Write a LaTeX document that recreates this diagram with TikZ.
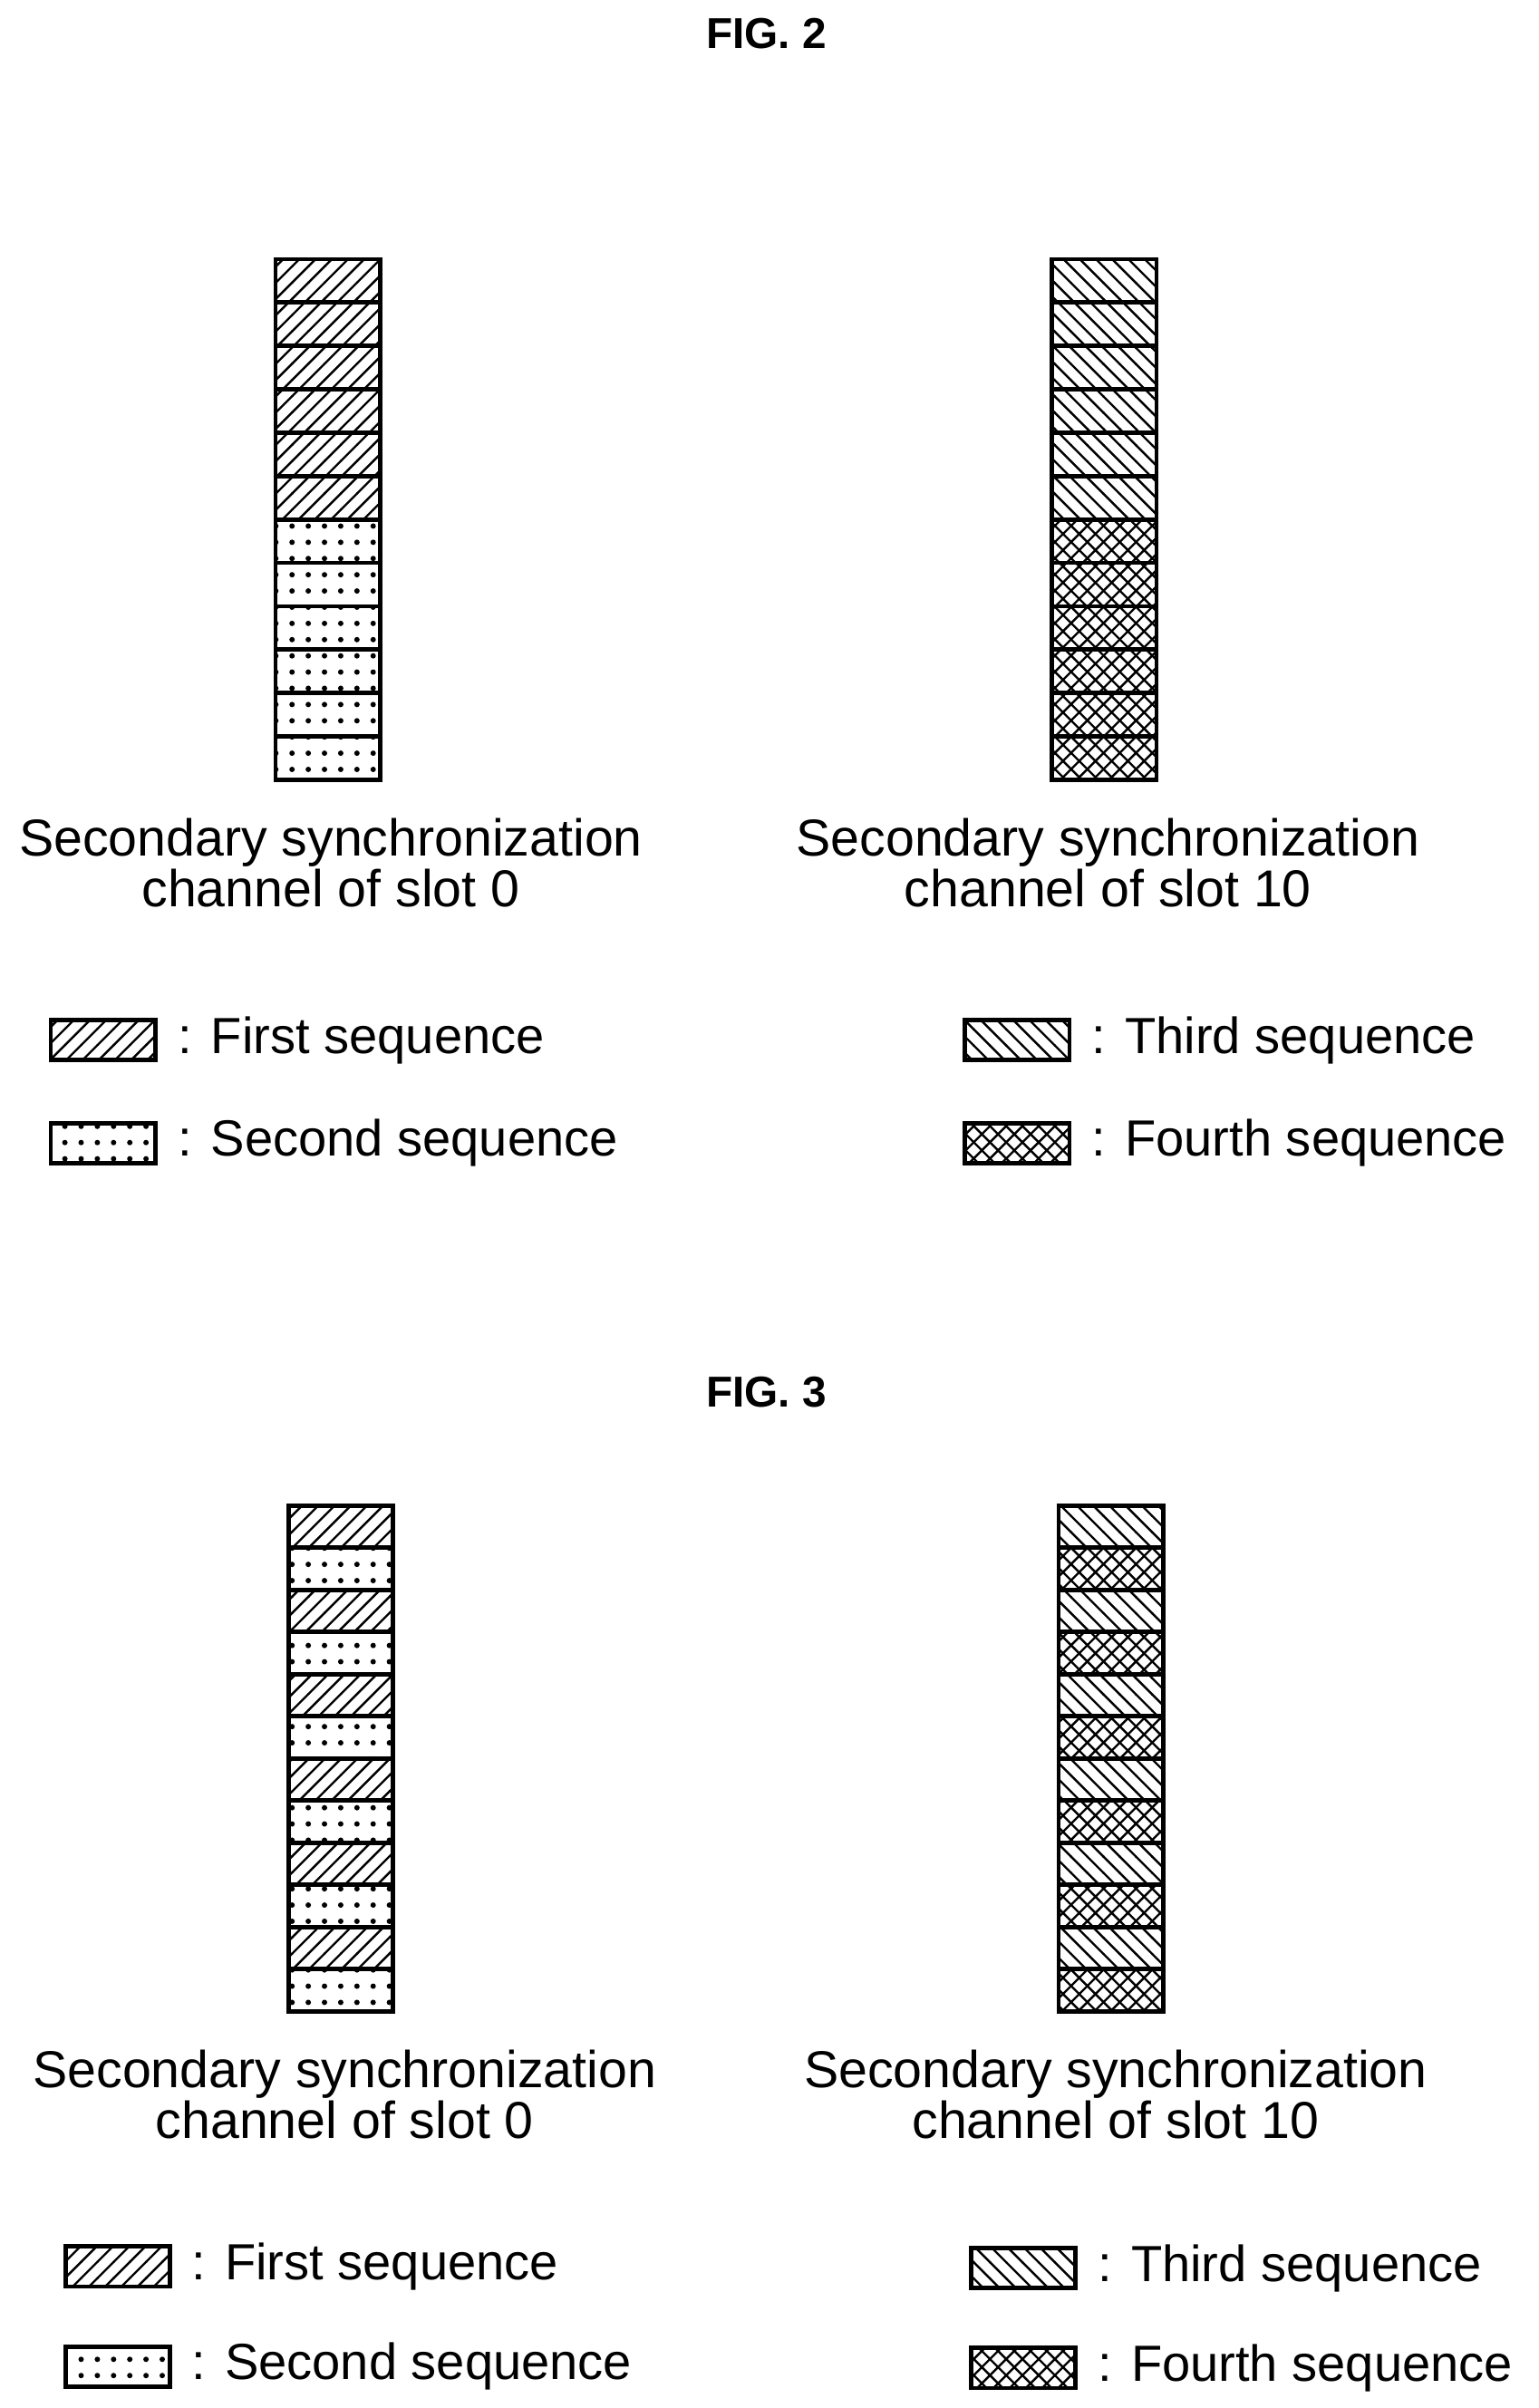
\documentclass[tikz,border=0pt]{standalone}
\usepackage{fontspec}
\setmainfont{Liberation Sans}
\usetikzlibrary{patterns}
\tikzset{
  cell/.style={draw=black,thick,minimum width=0.68cm,inner sep=0pt,anchor=north},
  first/.style={pattern=north east lines},
  second/.style={pattern=dots},
  third/.style={pattern=north west lines},
  fourth/.style={pattern=crosshatch},
  key/.style={draw=black,thick,minimum width=0.68cm,minimum height=0.26cm,inner sep=0pt},
  keytext/.style={anchor=west,font=\fontsize{9.4}{11}\selectfont,inner sep=0pt},
  caption/.style={align=center,font=\fontsize{9.6}{9.4}\selectfont},
  title/.style={font=\bfseries\fontsize{8}{9}\selectfont}
}
\begin{document}
\begin{tikzpicture}
\useasboundingbox (0,0) rectangle (10,-15.65);
% FIG. 2
\node[title] (t2) at (4.98,-0.22) {FIG. 2};
\foreach \i in {0,...,11}{
  \ifnum\i<6
    \node[cell,first,minimum height=0.282cm] (a\i) at (2.13,-1.67-0.282*\i) {};
    \node[cell,third,minimum height=0.282cm] (b\i) at (7.175,-1.67-0.282*\i) {};
  \else
    \node[cell,second,minimum height=0.282cm] (a\i) at (2.13,-1.67-0.282*\i) {};
    \node[cell,fourth,minimum height=0.282cm] (b\i) at (7.175,-1.67-0.282*\i) {};
  \fi
}
\node[caption] (ca2) at (2.15,-5.61) {Secondary synchronization\\channel of slot 0};
\node[caption] (cb2) at (7.2,-5.61) {Secondary synchronization\\channel of slot 10};
\node[key,first] (k1) at (0.67,-6.76) {};
\node[keytext] (l1) at (1.15,-6.76) {: First sequence};
\node[key,second] (k2) at (0.67,-7.43) {};
\node[keytext] (l2) at (1.15,-7.43) {: Second sequence};
\node[key,third] (k3) at (6.61,-6.76) {};
\node[keytext] (l3) at (7.09,-6.76) {: Third sequence};
\node[key,fourth] (k4) at (6.61,-7.43) {};
\node[keytext] (l4) at (7.09,-7.43) {: Fourth sequence};
% FIG. 3
\node[title] (t3) at (4.98,-9.05) {FIG. 3};
\foreach \i in {0,...,11}{
  \ifodd\i
    \node[cell,second,minimum height=0.274cm] (c\i) at (2.215,-9.77-0.274*\i) {};
    \node[cell,fourth,minimum height=0.274cm] (d\i) at (7.22,-9.77-0.274*\i) {};
  \else
    \node[cell,first,minimum height=0.274cm] (c\i) at (2.215,-9.77-0.274*\i) {};
    \node[cell,third,minimum height=0.274cm] (d\i) at (7.22,-9.77-0.274*\i) {};
  \fi
}
\node[caption] (ca3) at (2.24,-13.61) {Secondary synchronization\\channel of slot 0};
\node[caption] (cb3) at (7.25,-13.61) {Secondary synchronization\\channel of slot 10};
\node[key,first] (k5) at (0.765,-14.73) {};
\node[keytext] (l5) at (1.24,-14.73) {: First sequence};
\node[key,second] (k6) at (0.765,-15.38) {};
\node[keytext] (l6) at (1.24,-15.38) {: Second sequence};
\node[key,third] (k7) at (6.65,-14.74) {};
\node[keytext] (l7) at (7.13,-14.74) {: Third sequence};
\node[key,fourth] (k8) at (6.65,-15.39) {};
\node[keytext] (l8) at (7.13,-15.39) {: Fourth sequence};
\end{tikzpicture}
\end{document}
